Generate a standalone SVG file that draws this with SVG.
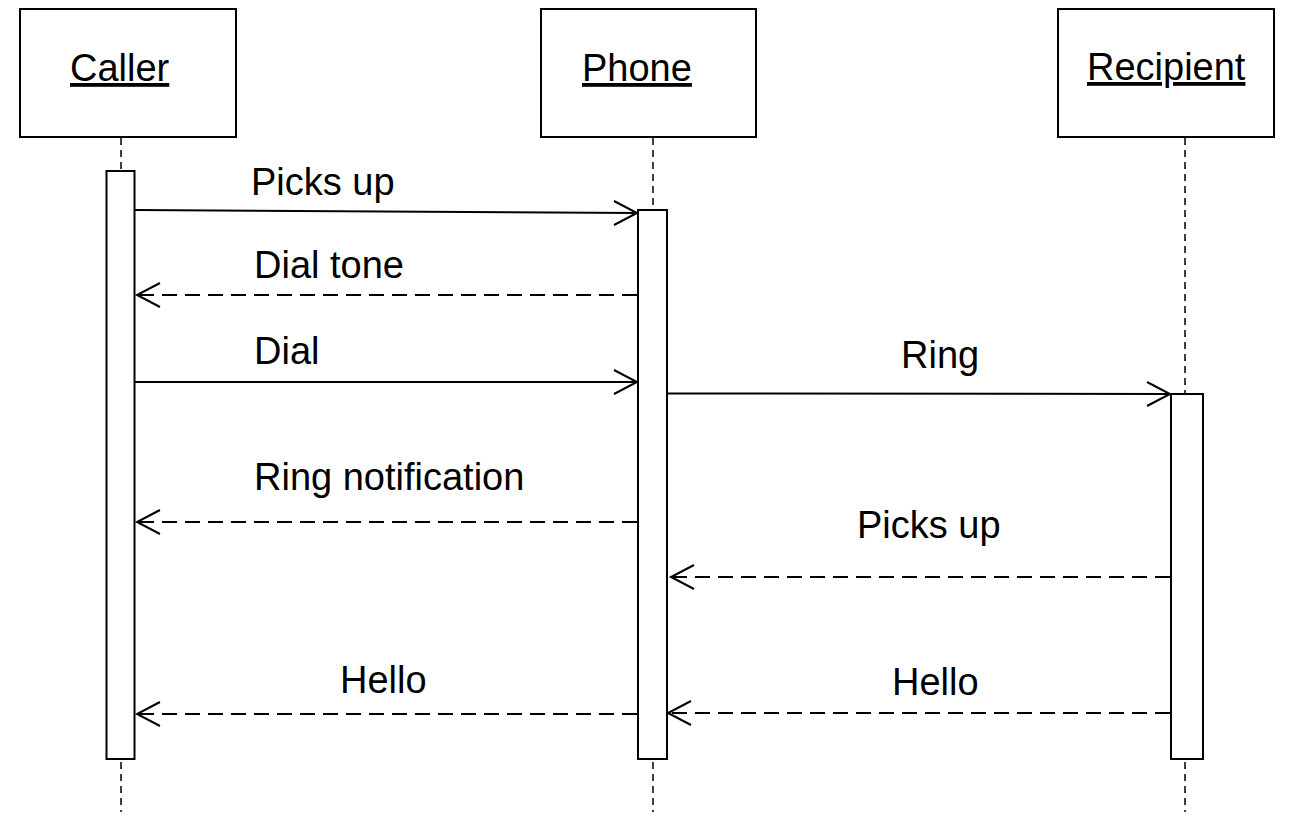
<svg xmlns="http://www.w3.org/2000/svg" width="1299" height="831" viewBox="0 0 1299 831">
<style>
.box{fill:#fff;stroke:#000;stroke-width:2}
.life{stroke:#000;stroke-width:1.5;stroke-dasharray:7 5;fill:none}
.bar{fill:#fff;stroke:#000;stroke-width:2}
.t{font-family:"Liberation Sans",Arial,sans-serif;font-size:38px;fill:#000}
.title{text-decoration:underline}
.msg{stroke:#000;stroke-width:2;fill:none}
.ret{stroke:#000;stroke-width:2;fill:none;stroke-dasharray:15 8}
.head{stroke:#000;stroke-width:2;fill:none}
</style>
<rect width="1299" height="831" fill="#fff"/>
<g id="lifelines">
<line class="life" x1="121" y1="138" x2="121" y2="812"/>
<line class="life" x1="653" y1="138" x2="653" y2="812"/>
<line class="life" x1="1185" y1="138" x2="1185" y2="812"/>
</g>
<g id="caller">
<rect class="box" x="20" y="9" width="216" height="128"/>
<text class="t title" x="70" y="81">Caller</text>
<rect class="bar" x="106.5" y="171" width="28" height="588"/>
</g>
<g id="phone">
<rect class="box" x="541" y="9" width="215" height="128"/>
<text class="t title" x="582" y="81">Phone</text>
<rect class="bar" x="638" y="210" width="29" height="549"/>
</g>
<g id="recipient">
<rect class="box" x="1058" y="9" width="216" height="128"/>
<text class="t title" x="1087" y="80">Recipient</text>
<rect class="bar" x="1171" y="394" width="32" height="365"/>
</g>
<g id="connectors">
<line class="msg" x1="135" y1="210" x2="637" y2="213"/>
<polyline class="head" points="614,201 637,213 614,225"/>
<text class="t" x="251" y="195">Picks up</text>

<line class="ret" x1="637" y1="295" x2="138" y2="295"/>
<polyline class="head" points="160,283 137,295 160,307"/>
<text class="t" x="254" y="278">Dial tone</text>

<line class="msg" x1="135" y1="382" x2="637" y2="382"/>
<polyline class="head" points="614,370 637,382 614,394"/>
<text class="t" x="254" y="364">Dial</text>

<line class="msg" x1="667" y1="393.5" x2="1170" y2="394"/>
<polyline class="head" points="1147,382 1170,394 1147,406"/>
<text class="t" x="901" y="368">Ring</text>

<line class="ret" x1="637" y1="522" x2="138" y2="522"/>
<polyline class="head" points="160,510 137,522 160,534"/>
<text class="t" x="254" y="490">Ring notification</text>

<line class="ret" x1="1170" y1="577" x2="672" y2="577"/>
<polyline class="head" points="694,565 671,577 694,589"/>
<text class="t" x="857" y="538">Picks up</text>

<line class="ret" x1="1170" y1="713" x2="669" y2="713"/>
<polyline class="head" points="691,701 668,713 691,725"/>
<text class="t" x="892" y="695">Hello</text>

<line class="ret" x1="637" y1="714" x2="138" y2="714"/>
<polyline class="head" points="160,702 137,714 160,726"/>
<text class="t" x="340" y="693">Hello</text>
</g>
</svg>
